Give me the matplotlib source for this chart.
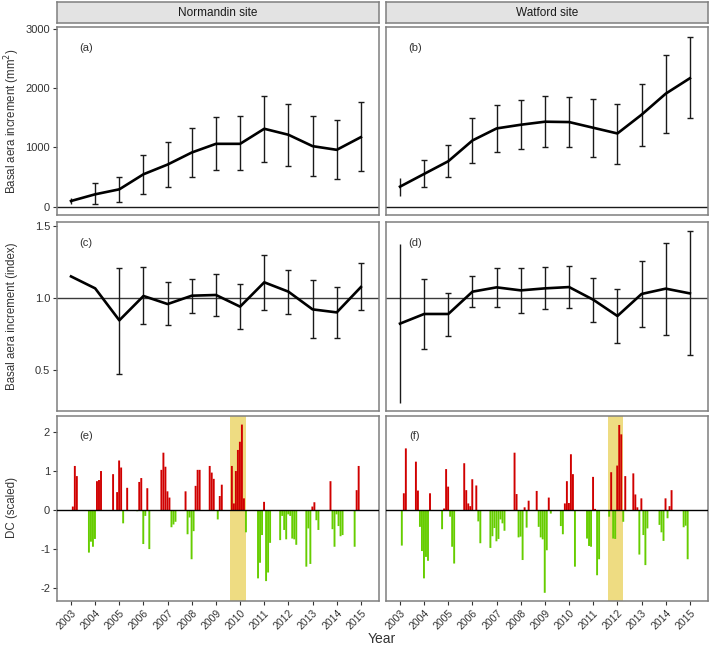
import matplotlib
matplotlib.use('Agg')
import matplotlib.pyplot as plt
import numpy as np

plt.rcParams['font.family'] = ['Liberation Sans', 'DejaVu Sans']

years = np.arange(2003, 2016)
sites = ['Normandin site', 'Watford site']

# basal area increment (mm2): mean, lower, upper
bai_norm = [96, 209, 293, 547, 711, 914, 1060, 1060, 1314, 1213, 1021, 959, 1173]
bai_norm_lo = [45, 45, 85, 209, 327, 508, 620, 620, 761, 688, 525, 468, 609]
bai_norm_hi = [141, 395, 508, 874, 1089, 1331, 1512, 1523, 1861, 1737, 1523, 1455, 1765]
bai_wat = [338, 553, 767, 1117, 1320, 1382, 1433, 1427, 1331, 1235, 1551, 1906, 2166]
bai_wat_lo = [180, 333, 502, 744, 925, 976, 1010, 1004, 835, 728, 1026, 1241, 1489]
bai_wat_hi = [490, 784, 1043, 1489, 1715, 1794, 1861, 1850, 1816, 1737, 2064, 2566, 2854]

# basal area increment index
idx_norm = [1.15, 1.067, 0.845, 1.014, 0.958, 1.016, 1.021, 0.94, 1.109, 1.044, 0.921, 0.90, 1.076]
idx_norm_lo = [np.nan, np.nan, 0.47, 0.817, 0.812, 0.896, 0.877, 0.782, 0.919, 0.887, 0.722, 0.722, 0.919]
idx_norm_hi = [np.nan, np.nan, 1.21, 1.215, 1.109, 1.132, 1.167, 1.10, 1.299, 1.197, 1.125, 1.076, 1.243]
idx_wat = [0.822, 0.889, 0.889, 1.044, 1.074, 1.053, 1.067, 1.076, 0.988, 0.875, 1.028, 1.065, 1.032]
idx_wat_lo = [0.27, 0.644, 0.736, 0.935, 0.94, 0.894, 0.921, 0.933, 0.831, 0.69, 0.799, 0.745, 0.602]
idx_wat_hi = [1.377, 1.132, 1.035, 1.155, 1.211, 1.211, 1.218, 1.225, 1.139, 1.06, 1.259, 1.384, 1.463]

# scaled drought code: (year, first month index from January, consecutive monthly values)
dc_norm = [
    (2003, 0, [0.09, 1.13, 0.87]),
    (2003, 8, [-1.09, -0.81, -0.94, -0.74, 0.74, 0.77, 1.0]),
    (2004, 8, [0.92, 0.0, 0.46, 1.27, 1.09, -0.34, 0.0, 0.57]),
    (2005, 8, [-0.03, 0.72, 0.82, -0.87, -0.15, 0.56, -1.0]),
    (2006, 8, [1.03, 1.47, 1.11, 0.48, 0.32, -0.44, -0.37, -0.30]),
    (2007, 8, [0.48, -0.62, -0.19, -1.26, -0.54, 0.62, 1.03, 1.03]),
    (2008, 8, [1.13, 0.96, 0.80, 0.0, -0.24, 0.36, 0.65]),
    (2009, 7, [1.13, 0.17, 1.0, 1.54, 1.75, 2.19, 0.30, -0.57]),
    (2010, 8, [-1.75, -1.35, -0.64, 0.21, -1.82, -1.60, -0.84]),
    (2011, 7, [-0.77, -0.15, -0.51, -0.75, -0.11, -0.15, -0.73, -0.75, -0.89]),
    (2012, 8, [-1.45, -0.47, -1.38, 0.09, 0.20, -0.26, -0.51]),
    (2013, 8, [0.74, -0.49, -0.94, -0.11, -0.41, -0.67, -0.64]),
    (2014, 8, [-0.94, 0.51, 1.13]),
]
dc_wat = [
    (2003, 0, [-0.91, 0.43, 1.58]),
    (2003, 7, [1.24, 0.50, -0.43, -1.05, -1.75, -1.2, -1.3, 0.43]),
    (2004, 8, [-0.49, 0.04, 1.05, 0.60, -0.17, -0.94, -1.37]),
    (2005, 7, [1.2, 0.51, 0.17, 0.10, 0.79, 0.0, 0.63, -0.29, -0.85]),
    (2006, 8, [-0.97, -0.67, -0.46, -0.80, -0.74, -0.24, -0.34, -0.53]),
    (2007, 8, [1.47, 0.41, -0.70, -0.68, -1.28, 0.07, -0.45, 0.24]),
    (2008, 7, [0.49, -0.43, -0.70, -0.75, -2.12, -1.03, 0.32, -0.09]),
    (2009, 7, [-0.41, -0.62, 0.17, 0.74, 0.18, 1.43, 0.92, -1.45]),
    (2010, 8, [-0.73, -0.92, -0.94, 0.85, 0.03, -1.67, -1.26]),
    (2011, 7, [-0.17, 0.97, -0.73, -0.74, 1.14, 2.18, 1.94, -0.30, 0.87]),
    (2012, 7, [0.94, 0.40, 0.07, -1.14, 0.30, -0.64, -1.41, -0.47]),
    (2013, 8, [-0.38, -0.57, -0.79, 0.30, -0.21, 0.10, 0.51]),
    (2014, 8, [-0.44, -0.40, -1.26]),
]
# drought periods highlighted
drought_norm = (2009.6, 2010.25)
drought_wat = (2011.6, 2012.25)

letters = [['(a)', '(b)'], ['(c)', '(d)'], ['(e)', '(f)']]

TXT = '#333333'
EDGE = '#7f7f7f'
RED = '#d00000'
GREEN = '#66cd00'
BAND = '#eedc82'

fig = plt.figure(figsize=(7.09, 6.48), dpi=100)

W, H = 709.0, 648.0
col_x = [57, 386]
col_w = 322
rows = [(27, 215), (222, 411), (416, 601)]

axes = [[None, None] for _ in range(3)]
for r, (top, bot) in enumerate(rows):
    for c in range(2):
        ax = fig.add_axes([col_x[c] / W, 1 - bot / H, col_w / W, (bot - top) / H])
        axes[r][c] = ax

# strips
for c in range(2):
    sax = fig.add_axes([col_x[c] / W, 1 - 23 / H, col_w / W, 21 / H])
    sax.set_xticks([])
    sax.set_yticks([])
    sax.set_facecolor('#e3e3e3')
    for sp in sax.spines.values():
        sp.set_color(EDGE)
        sp.set_linewidth(1.1)
    sax.text(0.5, 0.5, sites[c], ha='center', va='center', fontsize=8.5, color='#1a1a1a',
             transform=sax.transAxes)


def line_panel(ax, y, lo, hi):
    lo = np.array(lo, dtype=float)
    hi = np.array(hi, dtype=float)
    ok = ~np.isnan(lo)
    ax.vlines(years[ok], lo[ok], hi[ok], color='#1a1a1a', lw=1.0, zorder=2)
    capped = ok.copy()
    capped[0] = False
    for arr in (lo, hi):
        ax.plot(years[capped], arr[capped], ls='none', marker='_', ms=4.5, mew=1.0,
                color='#1a1a1a', zorder=2)
    ax.plot(years, y, color='black', lw=1.9, zorder=3, solid_joinstyle='round')


def dc_panel(ax, seasons, band):
    ax.axvspan(band[0], band[1], color=BAND, lw=0, zorder=0)
    xs, vs = [], []
    for yr, k0, vals in seasons:
        for i, v in enumerate(vals):
            if v != 0:
                xs.append(yr + (k0 + i + 0.9) / 12.0)
                vs.append(v)
    vs = np.array(vs)
    cols = [RED if v > 0 else GREEN for v in vs]
    ax.bar(xs, vs, width=0.95 / 12.0, color=cols, lw=0, zorder=2, snap=False)
    ax.axhline(0, color='black', lw=1.0, zorder=3)


line_panel(axes[0][0], bai_norm, bai_norm_lo, bai_norm_hi)
line_panel(axes[0][1], bai_wat, bai_wat_lo, bai_wat_hi)
line_panel(axes[1][0], idx_norm, idx_norm_lo, idx_norm_hi)
line_panel(axes[1][1], idx_wat, idx_wat_lo, idx_wat_hi)
dc_panel(axes[2][0], dc_norm, drought_norm)
dc_panel(axes[2][1], dc_wat, drought_wat)

for c in range(2):
    axes[0][c].axhline(0, color='#1a1a1a', lw=1.0, zorder=1)
    axes[1][c].axhline(1, color='#3a3a3a', lw=1.0, zorder=1)

ylims = [(-140, 3030), (0.215, 1.528), (-2.33, 2.41)]
yticks = [[0, 1000, 2000, 3000], [0.5, 1.0, 1.5], [-2, -1, 0, 1, 2]]
yticklabels = [['0', '1000', '2000', '3000'], ['0.5', '1.0', '1.5'], ['-2', '-1', '0', '1', '2']]

for r in range(3):
    for c in range(2):
        ax = axes[r][c]
        ax.set_xlim(2002.42, 2015.75)
        ax.set_ylim(*ylims[r])
        for sp in ax.spines.values():
            sp.set_color(EDGE)
            sp.set_linewidth(1.1)
        ax.set_yticks(yticks[r])
        ax.tick_params(axis='both', length=3, width=0.8, color=TXT, labelcolor=TXT,
                       labelsize=8, pad=2)
        if c == 0:
            ax.set_yticklabels(yticklabels[r])
        else:
            ax.tick_params(axis='y', left=False, labelleft=False)
        if r < 2:
            ax.set_xticks([])
        else:
            ax.set_xticks(years)
            ax.set_xticklabels([str(y) for y in years], rotation=45, ha='right',
                               rotation_mode='anchor', fontsize=7.5)
        ax.text(0.09, 0.89, letters[r][c], transform=ax.transAxes, ha='center',
                va='center', fontsize=8, color=TXT)

fig.text(12 / W, 1 - 121 / H, 'Basal aera increment (mm$^2$)', rotation=90,
         ha='center', va='center', fontsize=8.3, color=TXT)
fig.text(12 / W, 1 - 316 / H, 'Basal aera increment (index)', rotation=90,
         ha='center', va='center', fontsize=8.3, color=TXT)
fig.text(12 / W, 1 - 508 / H, 'DC (scaled)', rotation=90,
         ha='center', va='center', fontsize=8.3, color=TXT)
fig.text(382 / W, 1 - 639 / H, 'Year', ha='center', va='center', fontsize=10, color=TXT)

fig.savefig('out.png', dpi=100)
